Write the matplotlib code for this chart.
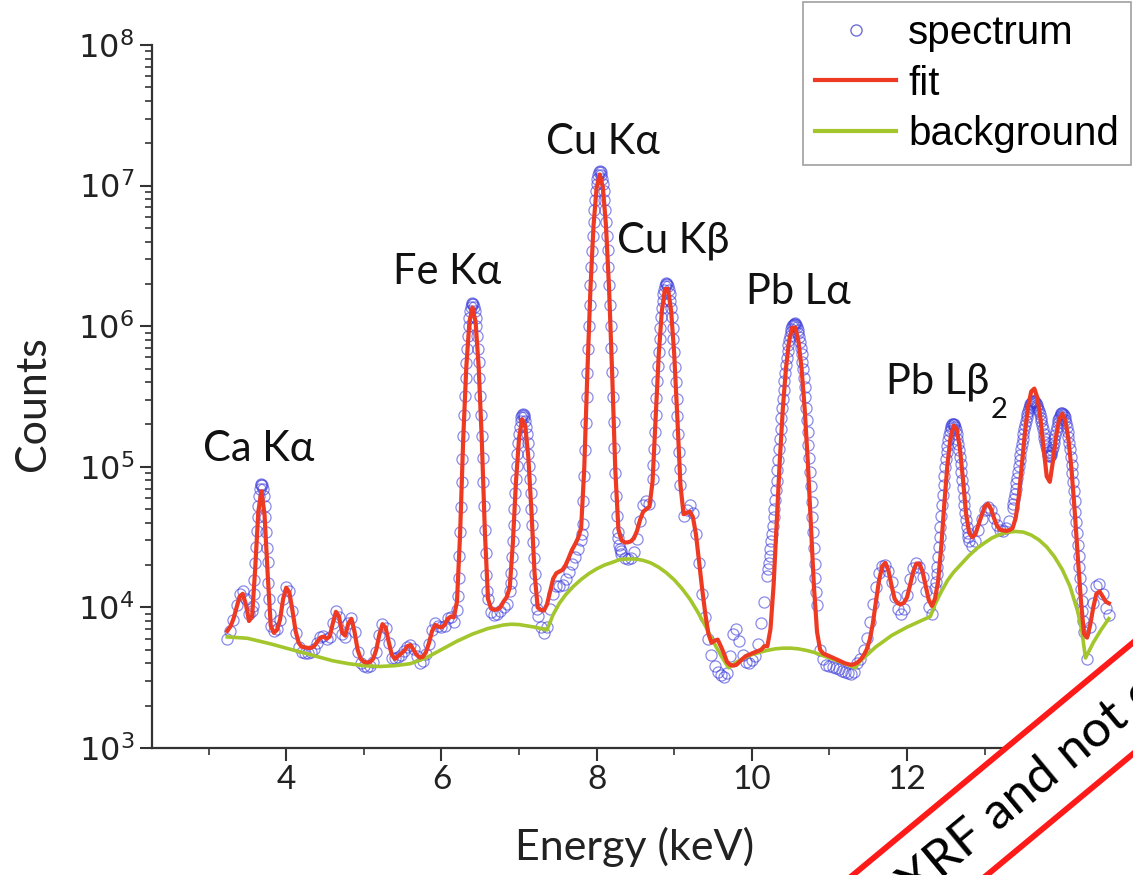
import numpy as np
import matplotlib
matplotlib.use("Agg")
import matplotlib.pyplot as plt
from matplotlib.lines import Line2D
from matplotlib.patches import Polygon
from matplotlib.ticker import LogLocator, MultipleLocator, NullFormatter, FixedLocator

# ---------------------------------------------------------------------------
# Data
# ---------------------------------------------------------------------------
# Channel energies (keV) of the coarse spectrum, 0.04 keV apart
E_START, E_STEP, N_CH = 3.24, 0.04, 285
energy = np.round(E_START + E_STEP * np.arange(N_CH), 2)

# Measured counts per coarse channel
spectrum = [
    6000, 6800, 8150, 10350, 12460, 13000, 11400, 9000, 9400, 20600,
    53000, 75600, 52600, 21000, 7400, 6800, 7000, 8200, 11550, 14000,
    13000, 9500, 6580, 5250, 4850, 4750, 4750, 4790, 5100, 5620,
    6130, 6210, 5940, 6120, 7730, 9410, 8550, 6420, 6170, 7800,
    8360, 6650, 4790, 4020, 3850, 3750, 3860, 4060, 4830, 6380,
    7640, 7170, 5560, 4360, 4350, 4450, 4600, 4900, 5200, 5380,
    5040, 4510, 4050, 4150, 4650, 5530, 6920, 7780, 7390, 7200,
    7370, 8370, 8480, 7810, 9650, 34500, 165000, 551000, 1148000, 1466000,
    1148000, 552000, 166000, 35300, 11500, 9300, 8900, 9000, 9400, 10000,
    10500, 13000, 29500, 82300, 170000, 234000, 210000, 123800, 50100, 17340,
    8700, 7300, 6600, 7200, 9700, 12500, 14300, 14300, 14500, 16000,
    18000, 20500, 23000, 26000, 30000, 86000, 468000, 1960000, 5500000, 10250000,
    12600000, 10250000, 5500000, 1960000, 472000, 90000, 31000, 24000, 22500, 22200,
    22600, 24600, 30500, 41500, 53100, 56750, 54600, 82500, 235000, 654000,
    1340000, 1930000, 1930000, 1340000, 651000, 229000, 74800, 44800, 49600, 53600,
    47000, 33500, 20600, 12400, 8600, 6000, 4600, 3800, 3500, 3300,
    3200, 3400, 4500, 6500, 7000, 5800, 4600, 4100, 4000, 4200,
    4500, 5500, 7770, 11000, 16700, 26200, 43700, 79900, 157700, 305000,
    530700, 795100, 997400, 1038000, 890300, 630200, 367000, 177600, 72700, 26300,
    10400, 5000, 4300, 3900, 3800, 3750, 3700, 3650, 3550, 3450,
    3400, 3350, 3500, 4000, 4330, 4990, 6070, 7870, 10600, 14050,
    17550, 19850, 20050, 18100, 15100, 11940, 9800, 9010, 9750, 12200,
    15800, 19200, 20700, 19400, 16500, 13100, 10000, 9000, 13700, 22800,
    44800, 86100, 141500, 189000, 201300, 171200, 118200, 70400, 41700, 29650,
    27200, 29700, 35600, 42800, 49300, 51600, 48900, 43300, 38300, 35600,
    35100, 36700, 41200, 51000, 69800, 100900, 145400, 198600, 249500, 284000,
    291400, 268400, 223300, 172400, 132700, 119700, 138400, 180800, 223700, 240100,
    216500, 163200, 103500, 56800, 28000, 13500, 6700, 4300, 7200, 10800,
    14100, 14600, 12400, 9900, 8900,
]

# Peak flanks recorded at 0.01 keV: windows (keV) and the counts of the
# channels lying between the coarse ones, in order
fine_windows = [(3.56, 3.80), (6.20, 6.60), (6.88, 7.24), (7.80, 8.32),
                (8.72, 9.08), (10.20, 10.84), (12.36, 12.80), (13.36, 14.28)]
fine_counts = [
    # Ca K-alpha
    10270, 12420, 15770, 26930, 34700, 43640, 61700, 69100, 74000,
    74000, 69100, 61600, 43600, 34600, 26500, 15000, 11450, 9040,
    # Fe K-alpha
    12050, 16250, 23290, 51900, 77600, 114400, 233000, 319700, 426000,
    693000, 845000, 1000000, 1277000, 1379000, 1444000, 1445000, 1380000, 1278000,
    1001000, 846000, 694000, 427000, 320400, 233700, 115300, 78500, 52800,
    24500, 17000, 13000,
    # Fe K-beta
    15000, 17700, 22700, 38700, 50400, 64950, 102100, 124000, 147100,
    191600, 210600, 225200, 237500, 234300, 225100, 191500, 170000, 147000,
    101900, 82100, 64700, 38400, 29300, 22400, 13800, 11350, 9700,
    # Cu K-alpha
    33500, 39400, 57200, 132100, 203600, 311200, 693100, 1002800, 1416500,
    2631000, 3452000, 4413000, 6682000, 7909000, 9123000, 11228000, 11980000, 12456000,
    12457000, 11982000, 11230000, 9125000, 7910000, 6683000, 4416000, 3455000, 2634000,
    1419300, 1005900, 696400, 315000, 207700, 136500, 62150, 44770, 34500,
    28000, 26000, 25000,
    # Cu K-beta
    103500, 134500, 177600, 310800, 405400, 520100, 808800, 978500, 1158800,
    1520000, 1684000, 1823000, 1996000, 2019000, 1996000, 1822000, 1682000, 1519000,
    1157600, 977100, 807100, 515900, 400900, 305900, 171700, 128000, 96500,
    # Pb L-alpha
    18700, 20800, 23300, 29600, 33500, 38100, 50300, 58400, 68200,
    94450, 111800, 132800, 186700, 220800, 260000, 354200, 408800, 468000,
    596700, 663500, 730300, 855800, 911000, 958800, 1025200, 1041800, 1045700,
    1016700, 984600, 942000, 831500, 767200, 699400, 560500, 492600, 427900,
    311600, 261400, 216600, 144000, 115500, 91900, 56600, 44100, 34200,
    20500, 16100, 12800,
    # Pb L-beta
    15200, 17200, 19500, 26700, 31650, 37600, 53200, 62900, 74000,
    99200, 113100, 127400, 155400, 168200, 179600, 196200, 200800, 202500,
    197400, 190800, 182000, 158900, 145700, 132000, 105000, 92400, 80900,
    61300, 53500, 46900, 37300, 34000, 31500,
    # 13.4 - 14.3 keV doublet
    54700, 59100, 64100, 76350, 83770, 91850, 110900, 121650, 133100,
    158300, 171600, 185100, 212100, 225300, 237700, 260300, 269800, 277700,
    288900, 291600, 292500, 288400, 283400, 276700, 258700, 247800, 235800,
    210500, 197800, 184900, 160800, 150100, 140600, 126600, 122300, 120000,
    121500, 125300, 131000, 147600, 157900, 169100, 192600, 204100, 214500,
    231200, 236500, 239600, 238000, 233100, 226000, 205200, 192300, 178100,
    147900, 132800, 117800, 90300, 78000, 66800, 47960, 40170, 33590,
    23250, 19390, 16100, 11150, 9390, 7940,
]

# Fitted model on the coarse channels
fit = [
    6800, 7300, 8300, 10000, 12000, 12500, 10500, 8000, 8600, 19000,
    48000, 67000, 46000, 17500, 7400, 6600, 6900, 8200, 11500, 13800,
    12800, 9500, 6800, 5600, 5250, 5200, 5150, 5150, 5300, 5700,
    6100, 6200, 6000, 6200, 7700, 9300, 8600, 6600, 6300, 7700,
    8300, 6700, 5000, 4300, 4100, 4050, 4100, 4300, 5000, 6400,
    7600, 7200, 5700, 4600, 4300, 4500, 4700, 4900, 5300, 5400,
    5000, 4600, 4400, 4450, 4800, 5600, 6800, 7500, 7300, 7200,
    7500, 8300, 8600, 8500, 11000, 33000, 155000, 510000, 1070000, 1360000,
    1070000, 510000, 155000, 34000, 11500, 9800, 9600, 9700, 10000, 11000,
    11800, 13800, 28500, 78000, 160000, 218000, 197000, 116000, 48000, 17500,
    10000, 9600, 9500, 10500, 13000, 16000, 17500, 18000, 18500, 20000,
    22500, 25500, 28000, 31000, 36700, 97000, 462000, 1850000, 5220000, 9740000,
    12000000, 9740000, 5220000, 1850000, 460000, 95500, 36000, 30000, 29000, 29000,
    29500, 31000, 35000, 42000, 48000, 50000, 52000, 78000, 225000, 627000,
    1280000, 1840000, 1840000, 1280000, 627000, 222000, 74000, 46000, 47000, 48000,
    44000, 33000, 21000, 13500, 9000, 6500, 5600, 5800, 5900, 5300,
    4700, 4100, 3900, 3850, 3900, 4100, 4300, 4500, 4600, 4700,
    4800, 4900, 5000, 5300, 5300, 7000, 14300, 40200, 111000, 263000,
    505000, 785000, 978000, 978000, 785000, 505000, 263000, 111000, 40000, 14100,
    6700, 5000, 4700, 4600, 4500, 4400, 4300, 4200, 4100, 4000,
    3950, 3900, 3950, 4050, 4250, 4550, 5020, 5900, 7730, 11080,
    15650, 19650, 20750, 18300, 14300, 11500, 10700, 10500, 10800, 11800,
    14500, 18000, 20500, 20450, 17930, 14250, 11300, 10240, 11500, 15300,
    26700, 54300, 103100, 160600, 196200, 185100, 136500, 82400, 46500, 34000,
    31500, 33000, 38700, 44900, 52000, 54600, 50300, 43300, 38000, 35600,
    35300, 35000, 35500, 36600, 43200, 61600, 104000, 176900, 268500, 343100,
    360100, 309200, 219600, 135300, 85300, 78200, 109400, 164000, 217300, 238600,
    213700, 156200, 94600, 48900, 23100, 11300, 6500, 6100, 7500, 10000,
    12500, 13000, 12000, 11000, 10700,
]

# Background continuum (keV, counts)
bg_energy = [
    3.24, 3.50, 3.80, 4.00, 4.20, 4.40, 4.60, 4.80, 5.00, 5.20, 5.40, 5.60,
    5.80, 6.00, 6.20, 6.40, 6.60, 6.80, 6.90, 7.00, 7.20, 7.36,
    7.44, 7.52, 7.60, 7.70, 7.80, 7.90, 8.00, 8.10, 8.20, 8.30, 8.40, 8.50,
    8.60, 8.70, 8.80, 8.90, 9.00, 9.10, 9.20, 9.30, 9.40, 9.50, 9.60, 9.70,
    9.80, 9.90, 10.00, 10.10, 10.20, 10.30, 10.40, 10.50, 10.60, 10.70,
    10.80, 10.90, 11.00, 11.10, 11.20, 11.33,
    11.40, 11.50, 11.60, 11.70, 11.80, 11.90, 12.00, 12.10, 12.20, 12.30,
    12.36, 12.44, 12.52, 12.60, 12.70, 12.80, 12.90, 13.00, 13.10, 13.20,
    13.30, 13.40, 13.50, 13.60, 13.70, 13.80, 13.90, 14.00, 14.10, 14.20,
    14.25, 14.30, 14.40, 14.50, 14.60,
]
bg_counts = [
    6170, 6030, 5500, 5130, 4790, 4470, 4170, 3980, 3850, 3800, 3850, 3980,
    4370, 5010, 5750, 6460, 7080, 7500, 7590, 7550, 7240, 6920,
    8910, 10700, 12300, 14100, 15800, 17400, 18800, 20000, 20900, 21900, 22100, 22100,
    21600, 20700, 19300, 17600, 15700, 13600, 11500, 9330, 7410, 5750, 4570, 3720,
    4070, 4370, 4620, 4790, 4950, 5070, 5130, 5130, 5070, 4950,
    4790, 4570, 4370, 4170, 3980, 3720,
    4170, 4680, 5250, 5750, 6310, 6760, 7240, 7670, 8130, 8610,
    10500, 12900, 15500, 17800, 20400, 23400, 26300, 28800, 31300, 33100,
    34300, 34700, 34300, 32700, 30200, 26900, 22900, 18600, 14100, 9330,
    6920, 4370, 5620, 6920, 8320,
]

# Peak annotations (text, anchor energy, anchor counts for the baseline)
peak_names = ["Ca Kα", "Fe Kα", "Cu Kα", "Cu Kβ", "Pb Lα", "Pb Lβ"]
peak_text_x = [3.64, 6.075, 8.085, 8.99, 10.60, 12.39]
peak_text_y = [1.10e5, 2.0e6, 1.68e7, 3.37e6, 1.44e6, 3.3e5]

x_ticks = [4, 6, 8, 10, 12, 14]


def between_channels(a, b, step=0.01, coarse=4):
    """Fine channels inside (a, b) that are not on the coarse grid."""
    n = int(round((b - a) / step))
    return [round(a + step * j, 2) for j in range(1, n) if j % coarse]


fine_energy = [e for a, b in fine_windows for e in between_channels(a, b)]

# ---------------------------------------------------------------------------
# Styling
# ---------------------------------------------------------------------------
BLUE = "#3c3cdc"
RED = "#ee3a22"
GREEN = "#a2c62c"
AXIS = "#333333"
SANS = ["Lato", "DejaVu Sans"]

W, H = 1133, 875
fig = plt.figure(figsize=(W / 100, H / 100), dpi=100)
fig.patch.set_facecolor("white")

left_px, right_px, top_px, bottom_px = 152, 1133, 45, 748
ax = fig.add_axes([left_px / W, 1 - bottom_px / H,
                   (right_px - left_px) / W, (bottom_px - top_px) / H])

marker_style = dict(linestyle="none", marker="o", markersize=8,
                    markerfacecolor="none", markeredgecolor=BLUE,
                    markeredgewidth=0.9, alpha=0.6, zorder=2)
ax.plot(energy, spectrum, **marker_style)
ax.plot(fine_energy, fine_counts, **marker_style)
ax.plot(bg_energy, bg_counts, color=GREEN, lw=2.6, zorder=3,
        solid_joinstyle="round")
ax.plot(energy, fit, color=RED, lw=3.0, zorder=4, solid_joinstyle="round")

ax.set_yscale("log")
ax.set_xlim(2.27, 2.27 + (right_px - left_px) / 77.6)
ax.set_ylim(1e3, 1e8)

for side in ("top", "right"):
    ax.spines[side].set_visible(False)
for side in ("left", "bottom"):
    ax.spines[side].set_color(AXIS)
    ax.spines[side].set_linewidth(1.6)

ax.xaxis.set_major_locator(FixedLocator(x_ticks))
ax.xaxis.set_minor_locator(MultipleLocator(1))
ax.yaxis.set_major_locator(LogLocator(base=10, numticks=10))
ax.yaxis.set_minor_locator(LogLocator(base=10, subs=np.arange(2, 10), numticks=10))
ax.yaxis.set_minor_formatter(NullFormatter())

ax.tick_params(axis="both", which="major", direction="out", length=9,
               width=1.5, color=AXIS)
ax.tick_params(axis="both", which="minor", direction="out", length=5,
               width=1.2, color=AXIS)
ax.tick_params(axis="x", which="major", labelsize=24, pad=3, labelcolor="#222222")
ax.tick_params(axis="y", which="major", labelsize=23, pad=4, labelcolor="#222222")
for lab in ax.get_xticklabels():
    lab.set_family(SANS)
for lab in ax.get_yticklabels():
    lab.set_family("DejaVu Sans")

ax.set_xlabel("Energy (keV)", fontsize=31, family=SANS, color="#222222")
ax.set_ylabel("Counts", fontsize=31, family=SANS, color="#222222")
ax.xaxis.set_label_coords(0.492, -0.112)
ax.yaxis.set_label_coords(-0.102, 0.49)

texts = []
for name, tx, ty in zip(peak_names, peak_text_x, peak_text_y):
    t = ax.text(tx, ty, name, fontsize=30, family=SANS, color="#111111",
                ha="center", va="baseline", zorder=5)
    texts.append(t)
# subscript of Pb Lβ2
ax.annotate("2", xy=(1.0, 0.0), xycoords=texts[-1], xytext=(1, -6),
            textcoords="offset points", fontsize=21, family=SANS,
            color="#111111", ha="left", va="center")

# Legend
handles = [
    Line2D([], [], linestyle="none", marker="o", markersize=8,
           markerfacecolor="none", markeredgecolor="#6f6fd8", markeredgewidth=1.0),
    Line2D([], [], color=RED, lw=3),
    Line2D([], [], color=GREEN, lw=3),
]
leg = fig.legend(handles, ["spectrum", "fit", "background"],
                 loc="upper right", bbox_to_anchor=(1131 / W, 1 - 2 / H),
                 borderaxespad=0, prop={"family": "Liberation Sans", "size": 29},
                 frameon=True, fancybox=False, edgecolor="#888888",
                 handlelength=2.0, handletextpad=0.3, labelspacing=0.31,
                 borderpad=0.3)
leg.get_frame().set_linewidth(1.2)

# Diagonal banner in the lower right corner
slope = 0.83


def up_line(x):
    return 875 - slope * (x - 853)


def low_line(x):
    return 875 - slope * (x - 987)


xa, xb = 760, 1220
xc, xd = 880, 1260
poly_px = [(xa, up_line(xa)), (xb, up_line(xb)), (xd, low_line(xd)), (xc, low_line(xc))]
poly = Polygon([(x / W, 1 - y / H) for x, y in poly_px], closed=True,
               transform=fig.transFigure, facecolor="white", edgecolor="none",
               zorder=10)
fig.add_artist(poly)
for fn, x0, x1 in ((up_line, xa, xb), (low_line, xc, xd)):
    fig.add_artist(Line2D([x0 / W, x1 / W], [1 - fn(x0) / H, 1 - fn(x1) / H],
                          transform=fig.transFigure, color="#ff1a1a", lw=4.2,
                          zorder=11))
angle = np.degrees(np.arctan(slope))
fig.text(1028 / W, 1 - 789 / H, "XRF and not c", rotation=angle,
         rotation_mode="anchor", ha="center", va="center", fontsize=37,
         family=SANS, color="black", zorder=12)

fig.savefig("out.png", dpi=100, facecolor="white")
